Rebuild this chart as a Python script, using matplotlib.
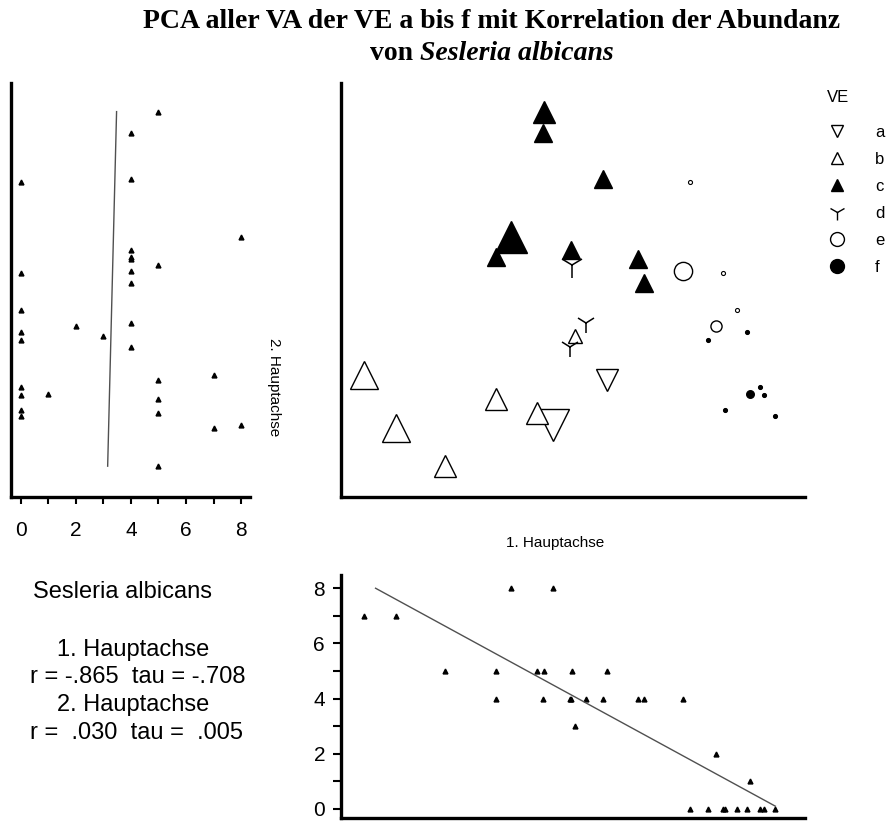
import numpy as np
import matplotlib.pyplot as plt
from matplotlib.lines import Line2D

plt.rcParams['font.family'] = ['Liberation Sans', 'DejaVu Sans']

# PCA scores (1. / 2. Hauptachse) and Abundanz von Sesleria albicans per VE
ve_labels = ['a', 'b', 'c', 'd', 'e', 'f']
ve_markers = ['v', '^', '^', '1', 'o', 'o']
ve_filled = [False, False, True, False, False, True]

pc1_a = [0.43, -0.06]
pc2_a = [-0.82, -1.23]
ab_a = [5, 8]

pc1_b = [-1.78, -1.49, -1.04, -0.58, -0.21, 0.14]
pc2_b = [-0.77, -1.25, -1.60, -0.99, -1.12, -0.42]
ab_b = [7, 7, 5, 5, 5, 3]

pc1_c = [-0.14, -0.15, 0.39, -0.44, -0.58, 0.10, 0.71, 0.77]
pc2_c = [1.62, 1.43, 1.01, 0.48, 0.30, 0.36, 0.28, 0.06]
ab_c = [5, 4, 4, 8, 4, 4, 4, 4]

pc1_d = [0.11, 0.24, 0.09]
pc2_d = [0.23, -0.30, -0.52]
ab_d = [5, 4, 4]

pc1_e = [1.18, 1.12, 1.48, 1.61, 1.42]
pc2_e = [0.98, 0.17, 0.15, -0.18, -0.33]
ab_e = [0, 4, 0, 0, 2]

pc1_f = [1.35, 1.70, 1.73, 1.82, 1.86, 1.50, 1.96]
pc2_f = [-0.45, -0.38, -0.94, -0.88, -0.95, -1.09, -1.14]
ab_f = [0, 0, 1, 0, 0, 0, 0]

groups = [(pc1_a, pc2_a, ab_a), (pc1_b, pc2_b, ab_b), (pc1_c, pc2_c, ab_c),
          (pc1_d, pc2_d, ab_d), (pc1_e, pc2_e, ab_e), (pc1_f, pc2_f, ab_f)]

pc1 = np.concatenate([g[0] for g in groups])
pc2 = np.concatenate([g[1] for g in groups])
ab = np.concatenate([g[2] for g in groups]).astype(float)

stats_text = [("Sesleria albicans", 33, 592),
              ("1. Hauptachse", 57, 650),
              ("r = -.865  tau = -.708", 30, 677),
              ("2. Hauptachse", 57, 705),
              ("r =  .030  tau =  .005", 30, 733)]

W, H = 888, 821
fig = plt.figure(figsize=(W / 100, H / 100), dpi=100)


def px_axes(x0, y0, x1, y1):
    return fig.add_axes([x0 / W, 1 - y1 / H, (x1 - x0) / W, (y1 - y0) / H])


xlim_pc1 = (-1.99, 2.23)
ylim_pc2 = (-1.88, 1.88)
spine_w = 2.4
line_col = '#505050'

# main PCA scatter
ax = px_axes(341, 83, 805, 497)
for (x, y, a), m, filled in zip(groups, ve_markers, ve_filled):
    for xi, yi, ai in zip(x, y, a):
        ms = 2.9 + 2.56 * ai
        if m == '1':
            ax.plot(xi, yi, marker=m, ms=ms * 1.15, color='black', mew=1.1, ls='none')
        else:
            ax.plot(xi, yi, marker=m, ms=ms, ls='none', mec='black',
                    mfc='black' if filled else 'white', mew=1.0 if ai > 0 else 0.8)
ax.set_xlim(xlim_pc1)
ax.set_ylim(ylim_pc2)
ax.set_xticks([])
ax.set_yticks([])
for s in ['top', 'right']:
    ax.spines[s].set_visible(False)
for s in ['left', 'bottom']:
    ax.spines[s].set_linewidth(spine_w)

# left panel: Abundanz vs 2. Hauptachse
axl = px_axes(11, 83, 250, 497)
axl.plot(ab, pc2, '^', color='black', ms=3.5, ls='none')
k, b0 = np.polyfit(pc2, ab, 1)
yy = np.array([pc2.min(), pc2.max()])
axl.plot(k * yy + b0, yy, color=line_col, lw=1.0)
axl.set_xlim(-0.35, 8.32)
axl.set_ylim(ylim_pc2)
axl.set_yticks([])
axl.set_xticks(range(9))
axl.set_xticklabels([str(i) if i % 2 == 0 else '' for i in range(9)])
axl.tick_params(axis='x', direction='out', length=5, width=1.5, labelsize=15, pad=12)
for s in ['top', 'right']:
    axl.spines[s].set_visible(False)
for s in ['left', 'bottom']:
    axl.spines[s].set_linewidth(spine_w)

# bottom panel: Abundanz vs 1. Hauptachse
axb = px_axes(341, 575, 805, 818)
axb.plot(pc1, ab, '^', color='black', ms=3.5, ls='none')
k, b0 = np.polyfit(pc1, ab, 1)
x_lo = max(pc1.min(), (ab.max() - b0) / k)
xx = np.array([x_lo, pc1.max()])
axb.plot(xx, k * xx + b0, color=line_col, lw=1.0)
axb.set_xlim(xlim_pc1)
axb.set_ylim(-0.33, 8.48)
axb.set_xticks([])
axb.set_yticks(range(9))
axb.set_yticklabels([str(i) if i % 2 == 0 else '' for i in range(9)])
axb.tick_params(axis='y', direction='out', length=5.5, width=1.5, labelsize=15, pad=6)
for s in ['top', 'right']:
    axb.spines[s].set_visible(False)
for s in ['left', 'bottom']:
    axb.spines[s].set_linewidth(spine_w)

# axis titles
fig.text(555 / W, 1 - 543 / H, '1. Hauptachse', ha='center', va='center', fontsize=11)
fig.text(274 / W, 1 - 387 / H, '2. Hauptachse', ha='center', va='center',
         fontsize=11, rotation=270)

# legend
handles = []
for lab, m, filled in zip(ve_labels, ve_markers, ve_filled):
    if m == '1':
        handles.append(Line2D([], [], marker=m, ls='none', color='black', ms=12, mew=1.0))
    else:
        handles.append(Line2D([], [], marker=m, ls='none', mec='black',
                              mfc='black' if filled else 'white',
                              ms=10 if m == 'o' else 8.5, mew=1.0))
fig.text(838 / W, 1 - 97 / H, 'VE', ha='center', va='center', fontsize=12)
fig.legend(handles, ve_labels, loc='upper left',
           bbox_to_anchor=(828.4 / W, 1 - 125 / H), frameon=False, fontsize=12,
           handlelength=1.0, handletextpad=1.8, labelspacing=0.72,
           borderpad=0, borderaxespad=0)

# correlation summary
for txt, x, y in stats_text:
    fig.text(x / W, 1 - y / H, txt, ha='left', va='center', fontsize=17)

# title
tfont = dict(family=['Liberation Serif', 'DejaVu Serif'], fontweight='bold', fontsize=20)
cx = 492
fig.text(cx / W, 1 - 28 / H, 'PCA aller VA der VE a bis f mit Korrelation der Abundanz',
         ha='center', va='baseline', **tfont)
t1 = fig.text(0, 1 - 60 / H, 'von ', ha='left', va='baseline', **tfont)
t2 = fig.text(0, 1 - 60 / H, 'Sesleria albicans', ha='left', va='baseline',
              fontstyle='italic', **tfont)
r = fig.canvas.get_renderer()
w1 = t1.get_window_extent(r).width
w2 = t2.get_window_extent(r).width
x0 = cx - (w1 + w2) / 2
t1.set_x(x0 / W)
t2.set_x((x0 + w1) / W)

fig.savefig('out.png', dpi=100)
